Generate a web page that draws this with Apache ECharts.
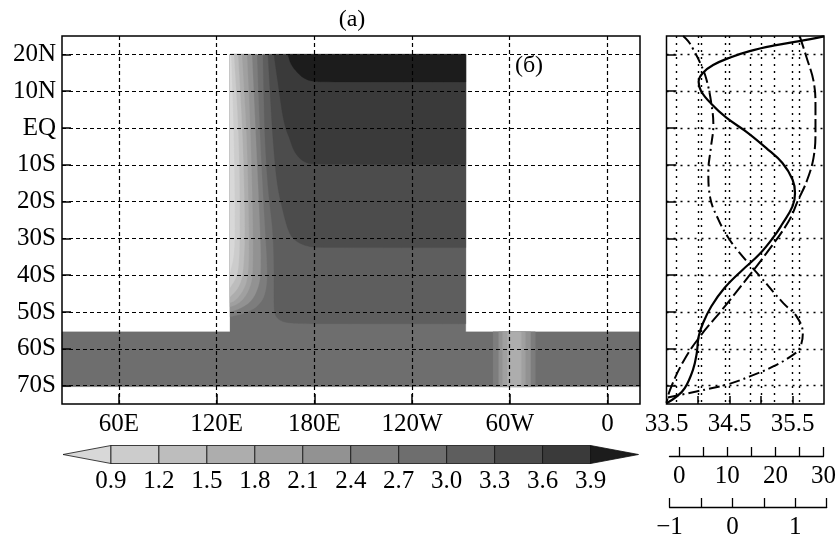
<!DOCTYPE html>
<html><head><meta charset="utf-8">
<style>html,body{margin:0;padding:0;background:#fff}#c{width:839px;height:540px}</style>
<script src="https://cdn.jsdelivr.net/npm/echarts@6/dist/echarts.min.js"></script>
</head><body><div id="c"></div>
<script>
// tick values
const lonTicks=[60,120,180,240,300,360];
const lonNames={60:'60E',120:'120E',180:'180E',240:'120W',300:'60W',360:'0'};
const latTicks=[-70,-60,-50,-40,-30,-20,-10,0,10,20];
const latNames={'-70':'70S','-60':'60S','-50':'50S','-40':'40S','-30':'30S','-20':'20S','-10':'10S',0:'EQ',10:'10N',20:'20N'};
const levels=[0.9,1.2,1.5,1.8,2.1,2.4,2.7,3.0,3.3,3.6,3.9];
const cellGreys=['#d8d8d8','#cccccc','#bdbdbd','#adadad','#a0a0a0','#929292','#7d7d7d','#6e6e6e','#5e5e5e','#4c4c4c','#3a3a3a','#1c1c1c'];
const salTicks=[34,34.5,35,35.5];
const salLabels=[33.5,34.5,35.5];
const tempTicks=[0,5,10,15,20,25,30];
const tempLabels=[0,10,20,30];
const windTicks=[-1,-0.5,0,0.5,1,1.5];
const windLabels=[-1,0,1];

// contour outlines of the field, [lon, lat]
const domain=[[128.2,20],[273,20],[273,-55.4],[380,-55.4],[380,-70.3],[25,-70.3],[25,-55.4],[128.2,-55.4]];
const west=128.2, east=273;
const below27=[[144.7,20],[146.6,-3.1],[149.6,-27.6],[150.9,-36.6],[150.9,-43.1],[147.8,-47.5],[139.2,-50.2],[128.2,-51.3]];
const below24=[[141.7,20],[144.1,-3.1],[146.6,-27.6],[147.2,-36.6],[146.6,-42.1],[142.3,-46.7],[135.5,-48.9],[128.2,-50]];
const below21=[[138.6,20],[141,-3.1],[142.3,-27.6],[142.3,-36.6],[141.7,-42.1],[137.4,-46.1],[132.5,-48],[128.2,-48.6]];
const below18=[[135.5,20],[138.6,-3.1],[139.8,-27.6],[139.8,-36.6],[138.6,-41.8],[135.5,-44.8],[131.2,-47],[128.2,-47.5]];
const below15=[[133.1,20],[136.1,-3.1],[137.4,-27.6],[136.7,-36.6],[135.5,-41.2],[132.5,-44],[128.2,-45.9]];
const below12=[[130.6,20],[133.7,-3.1],[134.3,-27.6],[133.7,-36.6],[132.5,-40.4],[128.2,-43.4]];
const below09=[[128.8,20],[130.6,-3.1],[131.2,-27.6],[130.6,-35],[128.2,-39.1]];
const above30=[[148.4,20],[149,8],[149.6,-3.1],[151.5,-16.8],[154.5,-27.6],[155.2,-36.6],[155.2,-45.9],[155.2,-48.9],[155.8,-50.8],[158.2,-52.1],[161.9,-52.8],[168,-53.1],[179.7,-53.2],[273,-53.2]];
const above33=[[151.5,20],[152.7,10.5],[154.5,-3.1],[157,-15.4],[160.7,-22.7],[163.7,-27.6],[166.2,-29.8],[171,-31.4],[177.2,-32.3],[183.4,-32.5],[273,-32.5]];
const above36=[[155.2,20],[156.4,16],[157.6,12.4],[159.5,6.4],[160.7,3.1],[162.5,-0.4],[165,-3.1],[166.8,-5.6],[169.8,-7.8],[174.2,-9.4],[179.7,-9.9],[273,-9.9]];
const above39=[[163.7,20],[165,18],[166.8,16.5],[169.9,14.9],[172.9,13.7],[176.6,12.9],[180.3,12.65],[186,12.5],[273,12.5]];
// low-value strip near 60W: [west lon, east lon]
const strip24=[289.7,315.7], strip21=[293.2,312.8], strip18=[295.6,309.6], strip15=[298.5,307.1];
const stripLat=[-55.4,-70.3];

// profiles
const salLat=[24.9,23.6,22.5,20.9,19.1,17.1,15,12.6,10,6.6,2.8,-1.3,-5.4,-9.5,-14,-17.7,-21.3,-26.3,-29.4,-34.4,-38.5,-43.5,-48.5,-53,-56.7,-61.2,-65.7,-70.7,-73,-74.8];
const salVal=[36,35.61,35.24,34.82,34.5,34.24,34.08,34.01,34.05,34.21,34.45,34.79,35.08,35.34,35.5,35.54,35.5,35.33,35.21,34.97,34.71,34.42,34.21,34.08,34.01,33.98,33.92,33.79,33.66,33.5];
const tempLat=[24.9,19.1,12.8,6.4,-0.9,-8.1,-14.5,-19.5,-25.4,-34,-39.9,-48.5,-56.7,-63.5,-71.2,-74.7];
const tempVal=[25.2,26.6,28,28.4,28.4,28,26.6,24.9,22.9,18.4,15,9.9,4.8,1.4,-1.3,-2];
const windLat=[25,23.6,21.4,17.7,13.2,6.4,0.9,-5.4,-11.8,-19,-24.9,-29.9,-34,-40.3,-47.6,-51.2,-55.8,-59.8,-61.6,-64.8,-67.5,-69.6,-71.6,-73.3];
const windVal=[-0.78,-0.7,-0.62,-0.51,-0.41,-0.33,-0.3,-0.34,-0.38,-0.35,-0.22,-0.06,0.12,0.44,0.81,1.02,1.12,1.07,0.97,0.65,0.28,-0.06,-0.57,-1.04];

// round the outline corners when drawing (ends stay fixed)
const round=(c,n)=>{let r=c;for(let k=0;k<(n==null?3:n);k++){const o=[r[0]];
  for(let i=0;i<r.length-1;i++){const a=r[i],b=r[i+1];
    o.push([a[0]*.75+b[0]*.25,a[1]*.75+b[1]*.25],[a[0]*.25+b[0]*.75,a[1]*.25+b[1]*.75]);}
  o.push(r[r.length-1]);r=o;}return r;};
const closeWest=(c)=>[[west,c[0][1]],...round(c)];
const closeEast=(c)=>[...round(c),[east,20]];
const rect=(s)=>[[s[0],stripLat[0]],[s[1],stripLat[0]],[s[1],stripLat[1]],[s[0],stripLat[1]]];
const g=cellGreys;
const field=[
 {p:domain,c:g[7]},
 {p:closeWest(below27),c:g[6]},{p:closeWest(below24),c:g[5]},{p:closeWest(below21),c:g[4]},
 {p:closeWest(below18),c:g[3]},{p:closeWest(below15),c:g[2]},{p:closeWest(below12),c:g[1]},{p:closeWest(below09),c:g[0]},
 {p:closeEast(above30),c:g[8]},{p:closeEast(above33),c:g[9]},{p:closeEast(above36),c:g[10]},{p:closeEast(above39),c:g[11]},
 {p:rect(strip24),c:g[6]},{p:rect(strip21),c:g[5]},{p:rect(strip18),c:g[4]},{p:rect(strip15),c:g[3]}
];
// colour bar
const barLo=0.6, barHi=4.2;
const bar=[];
bar.push({p:[[barLo,0.5],[levels[0],1],[levels[0],0]],c:g[0]});
for(let i=0;i<levels.length-1;i++) bar.push({p:[[levels[i],0],[levels[i+1],0],[levels[i+1],1],[levels[i],1]],c:g[i+1]});
bar.push({p:[[levels[10],0],[barHi,0.5],[levels[10],1]],c:g[11]});

const polySeries=(items,xi,yi,stroke)=>({
  type:'custom',xAxisIndex:xi,yAxisIndex:yi,silent:true,clip:false,z:2,
  data:items.map(d=>d.p[0]),
  renderItem:(params,api)=>{
    const it=items[params.dataIndex];
    return {type:'polygon',shape:{points:it.p.map(q=>api.coord(q))},
      style:{fill:it.c,stroke:stroke?'#111':it.c,lineWidth:stroke?0.8:0.3}};
  }
});
const zip=(x,y)=>x.map((v,i)=>[v,y[i]]);
const FONT='"Liberation Serif"';
const FS=25;
const lab={fontFamily:FONT,fontSize:FS,color:'#000'};
const frame=(l,w)=>({left:l,top:36,width:w,height:368,show:true,z:10,backgroundColor:'transparent',borderColor:'#000',borderWidth:1.5});
const off={show:false};
const noLine={show:false,onZero:false};

const chart=echarts.init(document.getElementById('c'),null,{renderer:'canvas'});
chart.setOption({
 animation:false,backgroundColor:'#fff',
 grid:[frame(62,578),frame(666.5,157.5),
  {left:63,top:445.5,width:575.5,height:18},
  {left:669.5,top:447,width:157.2,height:9},
  {left:669.5,top:499,width:157.2,height:9}],
 xAxis:[
  {gridIndex:0,type:'value',min:25,max:380,position:'bottom',z:5,
   axisLine:noLine,axisTick:{show:true,inside:true,length:10,customValues:lonTicks,lineStyle:{color:'#000',width:1.5}},
   axisLabel:{...lab,margin:8,customValues:lonTicks,formatter:v=>lonNames[v]},
   splitLine:{show:true,lineStyle:{color:'#000',type:[4,3],width:1.2}}},
  {gridIndex:1,type:'value',min:33.5,max:36,position:'bottom',z:5,
   axisLine:noLine,axisTick:{show:true,inside:true,length:8,customValues:salTicks,lineStyle:{color:'#000',width:1.5}},
   axisLabel:{...lab,margin:8,customValues:salLabels,showMinLabel:true,formatter:v=>v.toFixed(1)},
   splitLine:{show:true,lineStyle:{color:'#000',type:[2,5],width:1.4}}},
  {gridIndex:1,type:'value',min:-2,max:30.14,position:'bottom',z:5,
   axisLine:noLine,axisLabel:off,axisTick:{show:false,customValues:tempTicks.slice(0,6)},
   splitLine:{show:true,lineStyle:{color:'#000',type:[2,5],width:1.4}}},
  {gridIndex:1,type:'value',min:-1.044,max:1.456,position:'top',
   axisLine:noLine,axisLabel:off,axisTick:off,splitLine:off},
  {gridIndex:2,type:'value',min:barLo,max:barHi,position:'bottom',
   axisLine:noLine,axisTick:{show:false,customValues:levels},
   axisLabel:{...lab,margin:5,customValues:levels,formatter:v=>v.toFixed(1)},splitLine:off},
  {gridIndex:3,type:'value',min:-2,max:30,position:'bottom',
   axisLine:{show:true,onZero:false,lineStyle:{color:'#000',width:1.3}},
   axisTick:{show:true,inside:true,length:9,customValues:tempTicks,lineStyle:{color:'#000',width:1.3}},
   axisLabel:{...lab,margin:8,customValues:tempLabels,formatter:v=>String(v)},splitLine:off},
  {gridIndex:4,type:'value',min:-1,max:1.5,position:'bottom',
   axisLine:{show:true,onZero:false,lineStyle:{color:'#000',width:1.3}},
   axisTick:{show:true,inside:true,length:9,customValues:windTicks,lineStyle:{color:'#000',width:1.3}},
   axisLabel:{...lab,margin:8,customValues:windLabels,showMinLabel:true,formatter:v=>v<0?'\u2212'+Math.abs(v):String(v)},splitLine:off}
 ],
 yAxis:[
  {gridIndex:0,type:'value',min:-75,max:25,position:'left',z:5,
   axisLine:noLine,axisTick:{show:true,inside:true,length:9,customValues:latTicks,lineStyle:{color:'#000',width:1.5}},
   axisLabel:{...lab,margin:6,customValues:latTicks,formatter:v=>latNames[v]},
   splitLine:{show:true,lineStyle:{color:'#000',type:[4,3],width:1.2}}},
  {gridIndex:1,type:'value',min:-75,max:25,position:'left',z:5,
   axisLine:noLine,axisLabel:off,axisTick:{show:true,inside:true,length:10,customValues:latTicks,lineStyle:{color:'#000',width:1.5}},
   splitLine:{show:true,lineStyle:{color:'#000',type:[2,5],width:1.4}}},
  {gridIndex:2,type:'value',min:0,max:1,show:false},
  {gridIndex:3,type:'value',min:0,max:1,show:false},
  {gridIndex:4,type:'value',min:0,max:1,show:false}
 ],
 series:[
  polySeries(field,0,0,false),
  polySeries(bar,4,2,true),
  {type:'line',xAxisIndex:1,yAxisIndex:1,z:6,symbol:'none',smooth:0.4,data:zip(salVal,salLat),lineStyle:{color:'#000',width:2.2}},
  {type:'line',xAxisIndex:2,yAxisIndex:1,z:6,symbol:'none',smooth:0.4,data:zip(tempVal,tempLat),lineStyle:{color:'#000',width:2,type:[13,4]}},
  {type:'line',xAxisIndex:3,yAxisIndex:1,z:6,symbol:'none',smooth:0.4,data:zip(windVal,windLat),lineStyle:{color:'#000',width:2,type:[11,4,2,4]}}
 ],
 graphic:[
  {type:'text',x:352,y:20,z:20,style:{text:'(a)',fill:'#000',font:'24px '+FONT,align:'center',verticalAlign:'middle'}},
  {type:'text',x:529,y:66,z:20,style:{text:'(б)',fill:'#000',font:'24px '+FONT,align:'center',verticalAlign:'middle'}}
 ]
});
</script></body></html>
